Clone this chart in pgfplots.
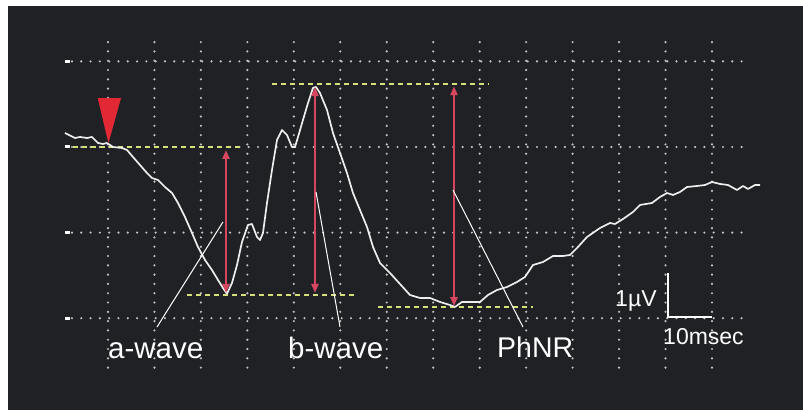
\documentclass[border=0pt]{standalone}
\usepackage{pgfplots}
\pgfplotsset{compat=1.18}
\usepackage{pgfplotstable}
\usepackage{fontspec}
\setmainfont{Liberation Sans}
\usetikzlibrary{arrows.meta}

\definecolor{bg}{RGB}{32,33,37}
\definecolor{griddot}{RGB}{196,196,196}
\definecolor{ylw}{RGB}{214,224,120}
\definecolor{arr}{RGB}{214,70,95}
\definecolor{tri}{RGB}{226,40,52}
\definecolor{trace}{RGB}{238,238,238}

% ERG trace: time (ms) vs amplitude (uV)
\pgfplotstableread{
ms uV
-9.26 0.327
-7.10 0.210
-6.03 0.234
-4.52 0.210
-3.44 0.234
-2.15 0.093
-1.08 0.070
-0.22 0.093
1.08 0.000
3.01 -0.023
4.09 -0.070
5.38 -0.234
6.89 -0.421
8.39 -0.607
9.47 -0.724
10.76 -0.771
12.27 -0.935
13.78 -1.075
15.07 -1.308
16.57 -1.636
18.08 -2.009
19.37 -2.336
20.88 -2.640
22.38 -2.874
23.68 -3.107
24.75 -3.294
25.61 -3.430
26.69 -3.178
27.77 -2.757
28.84 -2.220
30.13 -1.822
30.99 -1.799
32.07 -2.103
32.72 -2.173
33.36 -2.009
34.22 -1.308
35.30 -0.537
36.38 0.164
37.45 0.397
38.53 0.280
39.60 0.000
40.25 0.000
40.90 0.234
41.97 0.631
43.05 1.028
44.12 1.379
44.77 1.402
45.63 1.262
47.14 0.864
48.43 0.327
49.94 -0.140
51.44 -0.607
52.73 -1.075
54.24 -1.472
55.75 -1.869
57.04 -2.336
58.55 -2.710
60.70 -2.944
62.85 -3.201
65.00 -3.458
67.15 -3.528
69.31 -3.528
71.46 -3.621
73.61 -3.692
74.69 -3.738
76.19 -3.621
77.92 -3.621
80.07 -3.621
81.79 -3.458
83.73 -3.341
85.88 -3.271
88.03 -3.154
89.75 -3.037
91.48 -2.757
93.63 -2.687
95.78 -2.547
97.93 -2.547
99.44 -2.523
100.95 -2.360
103.10 -2.103
105.90 -1.893
108.05 -1.776
109.13 -1.799
110.85 -1.682
113.00 -1.519
114.51 -1.355
117.09 -1.308
118.81 -1.168
120.32 -1.075
121.61 -1.121
123.12 -1.051
124.62 -0.935
126.78 -0.911
128.50 -0.888
130.00 -0.818
131.73 -0.864
133.45 -0.888
135.39 -1.005
136.68 -0.911
137.75 -0.981
139.26 -0.888
140.34 -0.888
}\ergtrace

\begin{document}
\begin{tikzpicture}
\fill[white] (-8bp,-4bp) rectangle (795bp,410bp);
\fill[bg] (0,0) rectangle (795bp,404bp);
\begin{axis}[at={(0,0)},anchor=south west,scale only axis,
  width=795bp,height=404bp,
  xmin=-21.52,xmax=149.59,ymin=-6.145,ymax=3.294,
  hide axis,clip=false]
% dotted grid
\pgfplotsinvokeforeach{0,10,...,130}{
  \addplot[griddot,line width=2.4bp,line cap=round,dash pattern=on 0bp off 9.3bp]
    coordinates {(#1,2.45) (#1,-5.21)};
}
\pgfplotsinvokeforeach{2,0,-2,-4}{
  \addplot[griddot,line width=2.4bp,line cap=round,dash pattern=on 0bp off 9.3bp]
    coordinates {(-7.75,#1) (138.2,#1)};
  \addplot[white,line width=3bp] coordinates {(-9.3,#1) (-8.2,#1)};
}
% reference levels
\addplot[ylw,line width=1.8bp,dash pattern=on 5bp off 4bp] coordinates {(-7.5,0) (28.6,0)};
\addplot[ylw,line width=1.8bp,dash pattern=on 5bp off 4bp] coordinates {(17.0,-3.46) (53.2,-3.46)};
\addplot[ylw,line width=1.8bp,dash pattern=on 5bp off 4bp] coordinates {(35.3,1.47) (82.0,1.47)};
\addplot[ylw,line width=1.8bp,dash pattern=on 5bp off 4bp] coordinates {(58.1,-3.74) (91.5,-3.74)};
% trace
\addplot[trace,line width=1.7bp,line join=round] table[x=ms,y=uV] {\ergtrace};
% amplitude arrows
\addplot[arr,line width=2.2bp,{Triangle[width=7bp,length=9bp]}-{Triangle[width=7bp,length=9bp]}]
  coordinates {(25.40,-0.07) (25.40,-3.41)};
\addplot[arr,line width=2.2bp,{Triangle[width=7bp,length=9bp]}-{Triangle[width=7bp,length=9bp]}]
  coordinates {(44.55,1.40) (44.55,-3.41)};
\addplot[arr,line width=2.2bp,{Triangle[width=7bp,length=9bp]}-{Triangle[width=7bp,length=9bp]}]
  coordinates {(74.47,1.42) (74.47,-3.72)};
% stimulus marker
\addplot[tri,fill=tri,draw=none] coordinates {(-2.2,1.14) (2.8,1.14) (0.1,0.09)} -- cycle;
% pointer lines
\addplot[white,line width=1bp] coordinates {(10.55,-4.206) (24.75,-1.752)};
\addplot[white,line width=1bp] coordinates {(44.77,-1.051) (49.94,-4.206)};
\addplot[white,line width=1bp] coordinates {(74.26,-1.005) (89.32,-4.206)};
% scale bar
\addplot[white,line width=2.6bp] coordinates {(120.5,-2.94) (120.5,-3.97) (130.0,-3.97)};
% labels
\node[white,anchor=base west,inner sep=0pt,font=\fontsize{29.5bp}{31bp}\selectfont] at (axis cs:0,-4.953) {a-wave};
\node[white,anchor=base west,inner sep=0pt,font=\fontsize{29.5bp}{31bp}\selectfont] at (axis cs:38.74,-4.953) {b-wave};
\node[white,anchor=base west,inner sep=0pt,font=\fontsize{28.5bp}{30bp}\selectfont] at (axis cs:83.73,-4.93) {PhNR};
\node[white,anchor=base west,inner sep=0pt,font=\fontsize{23bp}{25bp}\selectfont] at (axis cs:109.13,-3.738) {1µV};
\node[white,anchor=base west,inner sep=0pt,font=\fontsize{23bp}{25bp}\selectfont] at (axis cs:119.46,-4.626) {10msec};
\end{axis}
\end{tikzpicture}
\end{document}
